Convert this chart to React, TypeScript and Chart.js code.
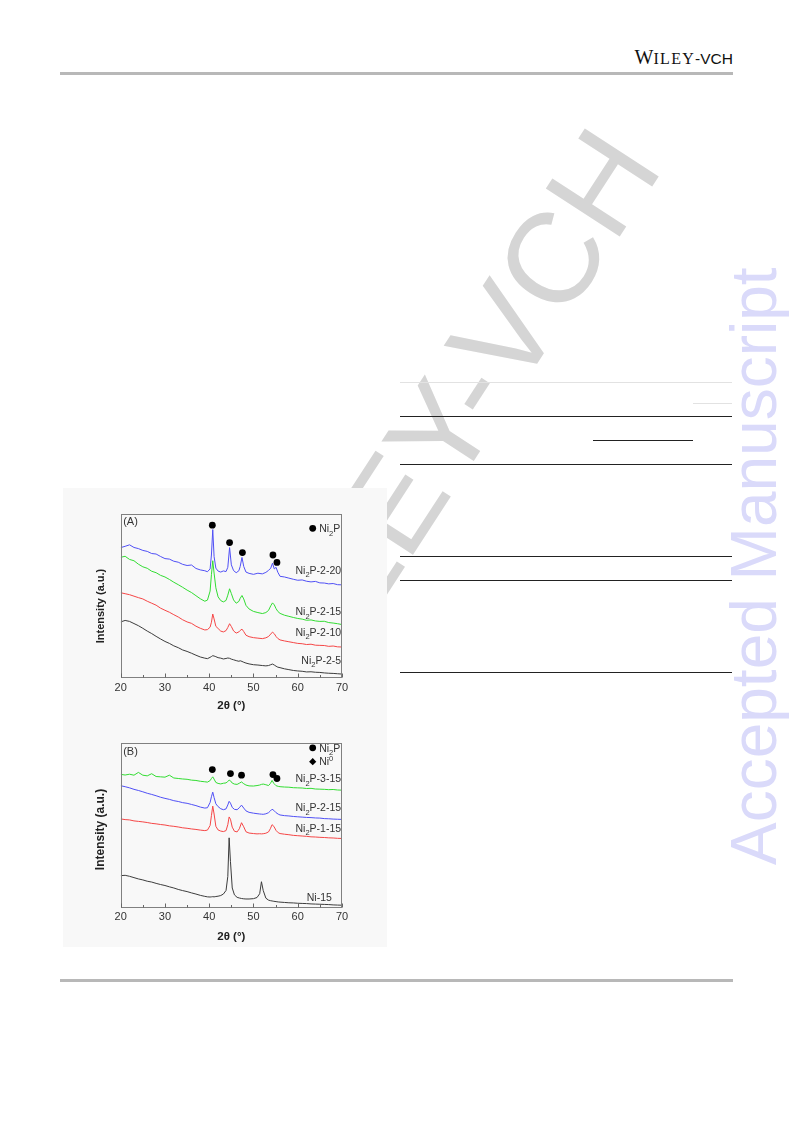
import React, { useEffect, useRef } from 'react';
import { Chart, registerables } from 'chart.js';

Chart.register(...registerables);

const FONT = '"Liberation Sans", Arial, Helvetica, sans-serif';

// ---------- Panel (A): Ni2P-2-x series ----------
const xA = [
  20, 21, 22, 23, 24, 25, 26, 27, 28, 29, 30, 31, 32, 33, 34, 35, 36, 37, 38, 39,
  39.6, 40.2, 40.5, 40.8, 41.1, 41.5, 42,
  42.6, 43.2, 43.8, 44.2, 44.6, 45.0, 45.5,
  46.1, 46.7, 47.0, 47.4, 47.8, 48.3, 49,
  50, 51, 52, 52.8, 53.4, 53.9, 54.3, 54.7, 55.1, 55.5, 56,
  57, 58, 59, 60, 61, 62, 63, 64, 65, 66, 67, 68, 69, 70,
];
const ni2p_2_20 = [
  79.5, 80.3, 81.2, 79.6, 78.9, 77.8, 77.2, 75.9, 75.6, 74.1, 72.8, 72.5, 71.2, 70.6, 69.3, 68.6, 68.9, 66.8, 65.9, 65.4,
  64.8, 66.5, 75, 90.5, 74, 67, 65.2,
  64.6, 65.3, 64.9, 67.5, 79.5, 69, 65.5,
  64.2, 65.4, 68, 73.5, 68, 64.6, 63.8,
  63.2, 63.9, 63.5, 64.4, 65.6, 67, 70, 66.5, 67.5, 64.5, 62,
  61.6, 60.9, 60.2, 59.6, 59.8, 59, 58.6, 58.9, 58, 57.9, 57.4, 57.6, 56.9, 56.8,
];
const ni2p_2_15A = [
  73.6, 74.2, 72.3, 71.5, 69.4, 67.8, 66.9, 65.1, 64.2, 62.6, 61.6, 60.1, 58.4, 56.9, 55.3, 53.6, 52.1, 50.2, 48.3, 46.8,
  47.5, 53, 63, 71.5, 64, 55, 49.5,
  47.2, 46.4, 47.3, 50.5, 54.4, 51.5, 47.6,
  45.6, 46.7, 48.6, 50.3, 48.2, 44.3, 42.1,
  40.6, 39.9, 39.3, 39.9, 41.2, 44, 45.8, 44.6, 42.3, 40.6, 39.4,
  38.3, 37.6, 36.9, 36.3, 35.9, 35.2, 35.4, 34.8, 34.5, 34.6, 33.8, 33.5, 33.1, 32.6,
];
const ni2p_2_10 = [
  52, 51.4, 50.8, 49.9, 49, 48.2, 46.8, 45.6, 44.4, 42.6, 41.3, 40.1, 38.6, 37.2, 35.5, 34.2, 33.3, 31.6, 30.3, 29.3,
  29.5, 31, 34, 39, 36, 31.5, 30.2,
  28.6, 28.1, 28.9, 30.8, 33.1, 31.4, 28.7,
  27.4, 28.1, 29, 29.8, 28.3, 26.1, 25.2,
  24.6, 24.3, 24, 24.5, 25.3, 26.8, 28, 27, 25.3, 24.1, 23.2,
  22.6, 22.1, 21.6, 21.1, 20.9, 20.4, 20.6, 20, 19.9, 19.8, 19.3, 19.5, 19, 18.9,
];
const ni2p_2_5 = [
  34.2, 35.1, 34.5, 33.2, 31.9, 30.3, 28.6, 27.1, 25.4, 23.8, 22.3, 21.1, 19.6, 18.5, 17.1, 16.2, 15.1, 13.9, 12.8, 12.1,
  11.8, 12.6, 13.1, 13.6, 13.4, 13, 12.4,
  12.1, 11.6, 11.9, 12.2, 12, 11.5, 11.1,
  10.6, 10.2, 10.5, 10.1, 9.6, 9.1, 8.6,
  8.1, 7.9, 7.6, 7.4, 7.6, 8.1, 8.5, 7.9, 7.2, 6.6, 6.3,
  5.6, 5.1, 4.6, 4.3, 4.1, 3.7, 3.8, 3.5, 3.4, 3.1, 2.9, 2.8, 2.6, 2.4,
];
const dotXA = [40.7, 44.6, 47.5, 54.4, 55.3];
const dotYA = [93.2, 82.6, 76.5, 75, 70.5];
const labelsA = ['Ni_2P-2-20', 'Ni_2P-2-15', 'Ni_2P-2-10', 'Ni_2P-2-5'];
const labelXA = [69.8, 69.8, 69.8, 69.8];
const labelYA = [66, 40.5, 28, 11];

// ---------- Panel (B): Ni2P-y-15 and Ni-15 ----------
const xB = [
  20, 21, 22, 23, 24, 25, 26, 27, 28, 29, 30, 31, 32, 33, 34, 35, 36, 37, 38, 39,
  39.6, 40.2, 40.5, 40.8, 41.1, 41.5, 42,
  42.6, 43.2, 43.8, 44.2, 44.5, 44.8, 45.2, 45.7,
  46.3, 46.8, 47.3, 47.8, 48.3, 49,
  50, 50.8, 51.4, 51.8, 52.2, 52.8,
  53.4, 53.8, 54.2, 54.6, 55.1, 55.6, 56,
  57, 58, 59, 60, 61, 62, 63, 64, 65, 66, 67, 68, 69, 70,
];
const ni2p_3_15 = [
  81.1, 80.7, 81.2, 80.6, 82.3, 80.6, 80.2, 81.5, 79.8, 79.6, 79.4, 80.6, 78.9, 78.6, 78.3, 78.1, 77.6, 77.4, 76.9, 76.6,
  76.4, 77.3, 78.6, 79.6, 78.2, 76.2, 75.6,
  75.3, 75.7, 75.9, 76.8, 77.6, 77.2, 75.8, 75.2,
  75, 75.7, 76.5, 75.4, 74.6, 74.1,
  74, 74.3, 74.6, 75, 75.2, 74.8,
  74.3, 75.5, 77.4, 75.6, 74.2, 73.8, 73.6,
  73.4, 73.3, 73, 72.9, 72.8, 72.5, 72.6, 72.2, 72.1, 72, 71.8, 71.9, 71.6, 71.5,
];
const ni2p_2_15B = [
  74.2, 73.6, 72.9, 72, 71.3, 70.5, 69.6, 68.9, 68.1, 67.2, 66.5, 65.9, 65.1, 64.6, 63.9, 63.5, 62.8, 62.1, 61.2, 60.6,
  60.8, 64, 67.5, 70.3, 67, 63.2, 61.5,
  60.2, 59.6, 60.1, 62.5, 64.7, 63.6, 61, 59.8,
  59.6, 60.8, 62.4, 60.6, 58.9, 58,
  57.5, 57.2, 57, 56.9, 56.8, 57.1,
  57.8, 58.8, 59.9, 59.2, 57.8, 56.9, 56.4,
  56, 55.8, 55.5, 55.3, 55.1, 54.9, 54.8, 54.6, 54.5, 54.2, 54.1, 53.9, 53.8, 53.7,
];
const ni2p_1_15 = [
  54, 53.6, 53.4, 52.8, 52.5, 52.2, 51.8, 51.3, 51, 50.6, 50.3, 49.8, 49.5, 49.1, 48.6, 48.3, 47.9, 47.6, 47.2, 46.9,
  47.2, 50, 56, 61.8, 57, 49.5, 47.3,
  46.6, 46.3, 46.9, 50.5, 55.2, 53.8, 49, 46.5,
  46.1, 48, 51.7, 49.2, 46.2, 45.4,
  45.1, 44.9, 45, 44.9, 45, 45.3,
  46.1, 48, 50.5, 49.5, 47, 45.6, 45.1,
  44.7, 44.4, 44, 43.8, 43.6, 43.4, 43.1, 43, 42.8, 42.7, 42.5, 42.4, 42.2, 42.1,
];
const ni_15 = [
  19.5, 19.7, 19.1, 18.3, 17.5, 16.9, 16.1, 15.6, 14.8, 14.1, 13.5, 12.7, 12, 11.1, 10.4, 9.8, 9, 8.3, 7.5, 6.9,
  6.6, 6.5, 6.6, 6.7, 6.6, 6.8, 7,
  7.4, 8.3, 10.5, 19, 42.5, 28, 12, 7.8,
  6.3, 5.9, 5.6, 5.4, 5.3, 5.3,
  5.5, 6.2, 8.5, 15.8, 10.5, 5.8,
  4.6, 4.3, 4.1, 3.9, 3.7, 3.5, 3.4,
  3.2, 3, 2.9, 2.7, 2.6, 2.5, 2.3, 2.2, 2.1, 2, 1.9, 1.7, 1.6, 1.5,
];
const dotXB = [40.7, 44.8, 47.3, 54.4, 55.3];
const dotYB = [84, 81.6, 80.6, 81, 78.6];
const labelsB = ['Ni_2P-3-15', 'Ni_2P-2-15', 'Ni_2P-1-15', 'Ni-15'];
const labelXB = [69.8, 69.8, 69.8, 67.7];
const labelYB = [78.6, 61, 48.6, 6.3];

const majorTicks = [20, 30, 40, 50, 60, 70];
const minorTicks = [25, 35, 45, 55, 65];

const BLUE = 'rgb(80,80,245)';
const GREEN = 'rgb(50,220,50)';
const RED = 'rgb(245,70,70)';
const BLACK = 'rgb(60,60,60)';

// ---------- helpers ----------
type Seg = { t: string; mode: number };
function parseRich(s: string): Seg[] {
  const out: Seg[] = [];
  let buf = '';
  for (let i = 0; i < s.length; i++) {
    const c = s[i];
    if ((c === '_' || c === '^') && i + 1 < s.length) {
      if (buf) { out.push({ t: buf, mode: 0 }); buf = ''; }
      out.push({ t: s[i + 1], mode: c === '_' ? 1 : 2 });
      i++;
    } else buf += c;
  }
  if (buf) out.push({ t: buf, mode: 0 });
  return out;
}

function drawRich(ctx: CanvasRenderingContext2D, s: string, x: number, yCenter: number, size: number, align: string, color: string) {
  const segs = parseRich(s);
  const small = size * 0.72;
  const fontFor = (m: number) => `normal ${m ? small : size}px ${FONT}`;
  let total = 0;
  for (const g of segs) { ctx.font = fontFor(g.mode); total += ctx.measureText(g.t).width; }
  let cx = align === 'right' ? x - total : align === 'center' ? x - total / 2 : x;
  const base = yCenter + size * 0.36;
  ctx.fillStyle = color;
  ctx.textAlign = 'left';
  ctx.textBaseline = 'alphabetic';
  for (const g of segs) {
    ctx.font = fontFor(g.mode);
    const dy = g.mode === 1 ? size * 0.34 : g.mode === 2 ? -size * 0.42 : 0;
    ctx.fillText(g.t, cx, base + dy);
    cx += ctx.measureText(g.t).width;
  }
}

const overlayPlugin = {
  id: 'overlay',
  afterDraw(chart: any, _args: any, o: any) {
    const { ctx, chartArea: ca, scales } = chart;
    const xs = scales.x;
    const ys = scales.y;
    ctx.save();
    // frame
    ctx.strokeStyle = '#808080';
    ctx.lineWidth = 1;
    const l = Math.round(ca.left) + 0.5;
    const t = Math.round(ca.top) + 0.5;
    const r = Math.round(ca.right) - 0.5;
    const b = Math.round(ca.bottom) - 0.5;
    ctx.strokeRect(l, t, r - l, b - t);
    // inward ticks on bottom axis
    ctx.strokeStyle = '#666';
    ctx.beginPath();
    for (const v of majorTicks) {
      const px = Math.round(xs.getPixelForValue(v)) + 0.5;
      ctx.moveTo(px, b); ctx.lineTo(px, b - 4);
    }
    for (const v of minorTicks) {
      const px = Math.round(xs.getPixelForValue(v)) + 0.5;
      ctx.moveTo(px, b); ctx.lineTo(px, b - 2.5);
    }
    ctx.stroke();
    // series labels
    const labels: string[] = o.labels || [];
    for (let i = 0; i < labels.length; i++) {
      drawRich(ctx, labels[i], xs.getPixelForValue(o.labelX[i]), ys.getPixelForValue(o.labelY[i]), 10.5, 'right', '#333');
    }
    // panel letter
    ctx.fillStyle = '#333';
    ctx.font = `normal 11px ${FONT}`;
    ctx.textAlign = 'left';
    ctx.textBaseline = 'middle';
    ctx.fillText(o.panel, ca.left + 2.5, ca.top + o.panelDy);
    // legend
    const legend: any[] = o.legend || [];
    for (const item of legend) {
      const cx = ca.left + item.dx;
      const cy = ca.top + item.dy;
      ctx.fillStyle = '#000';
      ctx.beginPath();
      if (item.shape === 'diamond') {
        const h = 3.6;
        ctx.moveTo(cx, cy - h); ctx.lineTo(cx + h, cy); ctx.lineTo(cx, cy + h); ctx.lineTo(cx - h, cy);
        ctx.closePath();
      } else {
        ctx.arc(cx, cy, 3.4, 0, Math.PI * 2);
      }
      ctx.fill();
      drawRich(ctx, item.text, cx + 6.5, cy, 10.5, 'left', '#333');
    }
    // y axis title
    ctx.save();
    ctx.translate(o.yTitleX, (ca.top + ca.bottom) / 2 + o.yTitleDy);
    ctx.rotate(-Math.PI / 2);
    ctx.fillStyle = '#222';
    ctx.font = `bold ${o.yTitleSize}px ${FONT}`;
    ctx.textAlign = 'center';
    ctx.textBaseline = 'middle';
    ctx.fillText('Intensity (a.u.)', 0, 0);
    ctx.restore();
    ctx.restore();
  },
};

function pts(xv: number[], yv: number[]) {
  return xv.map((x, i) => ({ x, y: yv[i] }));
}

function lineSet(label: string, xv: number[], yv: number[], color: string) {
  return {
    label,
    data: pts(xv, yv),
    showLine: true,
    borderColor: color,
    backgroundColor: color,
    borderWidth: 1,
    pointRadius: 0,
    tension: 0,
  };
}

function dotSet(xv: number[], yv: number[]) {
  return {
    label: 'Ni2P peaks',
    data: pts(xv, yv),
    showLine: false,
    pointRadius: 3.4,
    pointBackgroundColor: '#000',
    pointBorderWidth: 0,
    pointBorderColor: '#000',
  };
}

type PanelProps = {
  top: number;
  height: number;
  padTop: number;
  axisH: number;
  titleBottom: number;
  datasets: any[];
  overlay: any;
};

function XrdPanel({ top, height, padTop, axisH, titleBottom, datasets, overlay }: PanelProps) {
  const ref = useRef<HTMLCanvasElement | null>(null);
  useEffect(() => {
    if (!ref.current) return;
    const chart = new Chart(ref.current, {
      type: 'scatter',
      data: { datasets },
      options: {
        animation: false,
        responsive: false,
        events: [],
        layout: { padding: { left: 57.7, right: 44, top: padTop, bottom: 0 } },
        plugins: {
          legend: { display: false },
          tooltip: { enabled: false },
          overlay,
        } as any,
        scales: {
          x: {
            type: 'linear',
            min: 20,
            max: 70,
            grid: { display: false, drawTicks: false },
            border: { display: false },
            ticks: {
              stepSize: 10,
              color: '#333',
              font: { family: FONT, size: 11 },
              padding: 3,
              maxRotation: 0,
              autoSkip: false,
            },
            title: {
              display: true,
              text: '2θ (°)',
              color: '#222',
              font: { family: FONT, size: 11.5, weight: 'bold' },
              padding: { top: 0, bottom: titleBottom },
            },
            afterFit: (s: any) => { s.height = axisH; },
          },
          y: { type: 'linear', display: false, min: 0, max: 100 },
        },
      } as any,
      plugins: [overlayPlugin],
    });
    return () => chart.destroy();
  }, []);
  return (
    <canvas
      ref={ref}
      width={323}
      height={height}
      style={{ position: 'absolute', left: 63, top, width: 323, height, display: 'block' }}
    />
  );
}

function HLine({ x1, x2, y, h = 1, color = '#222' }: { x1: number; x2: number; y: number; h?: number; color?: string }) {
  return <div style={{ position: 'absolute', left: x1, top: y, width: x2 - x1, height: h, background: color }} />;
}

export default function App() {
  const datasetsA = [
    dotSet(dotXA, dotYA),
    lineSet('Ni2P-2-20', xA, ni2p_2_20, BLUE),
    lineSet('Ni2P-2-15', xA, ni2p_2_15A, GREEN),
    lineSet('Ni2P-2-10', xA, ni2p_2_10, RED),
    lineSet('Ni2P-2-5', xA, ni2p_2_5, BLACK),
  ];
  const datasetsB = [
    dotSet(dotXB, dotYB),
    lineSet('Ni2P-3-15', xB, ni2p_3_15, GREEN),
    lineSet('Ni2P-2-15', xB, ni2p_2_15B, BLUE),
    lineSet('Ni2P-1-15', xB, ni2p_1_15, RED),
    lineSet('Ni-15', xB, ni_15, BLACK),
  ];
  const overlayA = {
    labels: labelsA, labelX: labelXA, labelY: labelYA,
    panel: '(A)', panelDy: 8,
    legend: [{ shape: 'circle', text: 'Ni_2P', dx: 192, dy: 14.3 }],
    yTitleX: 38, yTitleDy: 10, yTitleSize: 11,
  };
  const overlayB = {
    labels: labelsB, labelX: labelXB, labelY: labelYB,
    panel: '(B)', panelDy: 9,
    legend: [
      { shape: 'circle', text: 'Ni_2P', dx: 192, dy: 4.5 },
      { shape: 'diamond', text: 'Ni^0', dx: 192, dy: 18.4 },
    ],
    yTitleX: 38, yTitleDy: 4, yTitleSize: 12,
  };

  return (
    <div style={{ position: 'absolute', left: 0, top: 0, width: 793, height: 1123, overflow: 'hidden', background: '#fff' }}>
      {/* watermark */}
      <div
        style={{
          position: 'absolute', left: 437, top: 437,
          transform: 'translate(-50%, -50%) rotate(-57deg)',
          fontFamily: FONT, fontSize: 128, lineHeight: 1, color: '#d5d5d5', whiteSpace: 'nowrap',
        }}
      >
        WILEY-VCH
      </div>
      {/* header */}
      <div style={{ position: 'absolute', right: 60, top: 47, lineHeight: '20px', whiteSpace: 'nowrap', color: '#111' }}>
        <span style={{ fontFamily: '"Liberation Serif", "Times New Roman", serif', fontSize: 20 }}>W</span>
        <span style={{ fontFamily: '"Liberation Serif", "Times New Roman", serif', fontSize: 16, letterSpacing: 1.3 }}>ILEY</span>
        <span style={{ fontFamily: FONT, fontSize: 15.5 }}>-VCH</span>
      </div>
      <HLine x1={60} x2={733} y={72} h={3} color="#b8b8b8" />
      {/* table rules */}
      <HLine x1={400} x2={732} y={382} color="#e2e2e2" />
      <HLine x1={693} x2={732} y={403} color="#e2e2e2" />
      <HLine x1={400} x2={732} y={416} />
      <HLine x1={593} x2={693} y={440} />
      <HLine x1={400} x2={732} y={464} />
      <HLine x1={400} x2={732} y={556} />
      <HLine x1={400} x2={732} y={580} />
      <HLine x1={400} x2={732} y={672} />
      {/* figure */}
      <div style={{ position: 'absolute', left: 63, top: 488, width: 324, height: 459, background: '#f8f8f8' }} />
      <XrdPanel top={488} height={229} padTop={26} axisH={39} titleBottom={4.7} datasets={datasetsA} overlay={overlayA} />
      <XrdPanel top={717} height={230} padTop={26.3} axisH={39.3} titleBottom={3.7} datasets={datasetsB} overlay={overlayB} />
      {/* footer */}
      <HLine x1={60} x2={733} y={979} h={3} color="#b8b8b8" />
      {/* side stamp */}
      <div
        style={{
          position: 'absolute', left: 721.6, top: 865, height: 64,
          transformOrigin: '0 0', transform: 'rotate(-90deg)',
          fontFamily: FONT, fontSize: 64, lineHeight: '64px', color: 'rgb(218,218,250)', whiteSpace: 'nowrap',
        }}
      >
        Accepted Manuscript
      </div>
    </div>
  );
}
